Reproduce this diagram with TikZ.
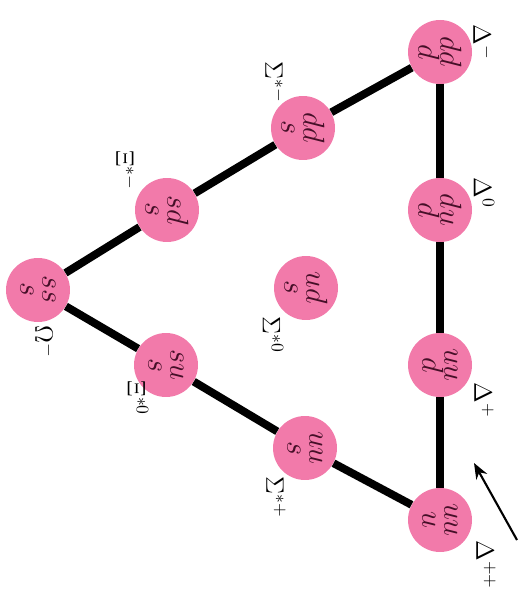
\documentclass[tikz,border=0pt]{standalone}
\usetikzlibrary{arrows.meta}
\definecolor{hadron}{RGB}{242,122,170}
\definecolor{quarkink}{RGB}{70,15,40}
\begin{document}
\begin{tikzpicture}[x=0.02cm,y=-0.02cm,
  quark/.style={circle,fill=hadron,minimum size=1.28cm,inner sep=0pt,rotate=-90,align=center,text=quarkink,font=\fontsize{17}{12.5}\selectfont},
  tag/.style={rotate=-90,font=\Large,inner sep=0pt},
  bond/.style={line width=4.5pt}]
\useasboundingbox (0,0) rectangle (517,607);
% decuplet, drawn turned by a quarter
\node[quark] (Om) at (38,290) {$ss$\\$s$};
\node[quark] (Xm) at (167,210) {$sd$\\$s$};
\node[quark] (Xz) at (166,365) {$su$\\$s$};
\node[quark] (Sm) at (303,128) {$dd$\\$s$};
\node[quark] (Sz) at (306,288) {$ud$\\$s$};
\node[quark] (Sp) at (305,448) {$uu$\\$s$};
\node[quark] (Dm) at (440,52) {$dd$\\$d$};
\node[quark] (Dz) at (440,210) {$du$\\$d$};
\node[quark] (Dp) at (440,365) {$uu$\\$d$};
\node[quark] (Dpp) at (440,520) {$uu$\\$u$};
\draw[bond] (Om)--(Xm); \draw[bond] (Xm)--(Sm); \draw[bond] (Sm)--(Dm);
\draw[bond] (Om)--(Xz); \draw[bond] (Xz)--(Sp); \draw[bond] (Sp)--(Dpp);
\draw[bond] (Dm)--(Dz); \draw[bond] (Dz)--(Dp); \draw[bond] (Dp)--(Dpp);
% names
\node[tag] (lOm) at (45,342) {$\Omega^-$};
\node[tag] (lXm) at (126,170) {$\Xi^{*-}$};
\node[tag] (lXz) at (138,398) {$\Xi^{*0}$};
\node[tag] (lSm) at (275,82) {$\Sigma^{*-}$};
\node[tag] (lSz) at (273,335) {$\Sigma^{*0}$};
\node[tag] (lSp) at (276,497) {$\Sigma^{*+}$};
\node[tag] (lDm) at (483,42) {$\Delta^-$};
\node[tag] (lDz) at (484,193) {$\Delta^0$};
\node[tag] (lDp) at (484,400) {$\Delta^+$};
\node[tag] (lDpp) at (486,565) {$\Delta^{++}$};
% pointer
\coordinate (arrS) at (517,540);
\coordinate (arrT) at (474,463);
\draw[line width=1.2pt,-{Stealth[length=9pt,width=7pt]}] (arrS)--(arrT);
\end{tikzpicture}
\end{document}
